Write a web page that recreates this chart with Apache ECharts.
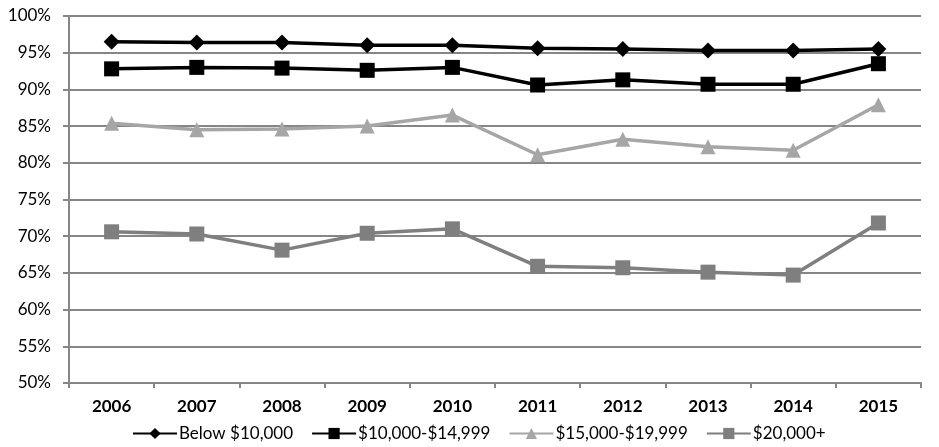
<!DOCTYPE html>
<html><head><meta charset="utf-8">
<script src="https://cdn.jsdelivr.net/npm/echarts@6/dist/echarts.min.js"></script>
<style>html,body{margin:0;padding:0;background:#fff}#c{width:939px;height:447px}</style>
</head><body><div id="c"></div>
<script>
const categories = ['2006','2007','2008','2009','2010','2011','2012','2013','2014','2015'];
const below10k = [96.5, 96.4, 96.4, 96.0, 96.0, 95.6, 95.5, 95.3, 95.3, 95.5];
const r10to15k = [92.8, 93.0, 92.9, 92.6, 93.0, 90.6, 91.3, 90.7, 90.7, 93.5];
const r15to20k = [85.4, 84.5, 84.6, 85.0, 86.5, 81.1, 83.2, 82.2, 81.7, 87.9];
const over20k = [70.6, 70.3, 68.1, 70.4, 71.0, 65.9, 65.7, 65.1, 64.7, 71.8];
const seriesNames = ['Below $10,000', '$10,000-$14,999', '$15,000-$19,999', '$20,000+'];

const font = 'Lato, "Open Sans", sans-serif';
const chart = echarts.init(document.getElementById('c'), null, {renderer: 'canvas'});
function mk(name, data, color, symbol, size) {
  return {
    name, type: 'line', data, symbol, symbolSize: size,
    lineStyle: {color, width: 3.5}, itemStyle: {color},
    emphasis: {disabled: true}, animation: false
  };
}
chart.setOption({
  animation: false,
  grid: {left: 69, right: 18, top: 16, bottom: 64, containLabel: false},
  xAxis: {
    type: 'category', data: categories, boundaryGap: true,
    axisLine: {lineStyle: {color: '#868686', width: 2}},
    axisTick: {show: true, length: 5, lineStyle: {color: '#868686', width: 2}},
    axisLabel: {color: '#000', fontWeight: 'bold', fontSize: 17, fontFamily: font, margin: 15}
  },
  yAxis: {
    type: 'value', min: 50, max: 100, interval: 5,
    axisLine: {show: true, lineStyle: {color: '#868686', width: 2}},
    axisTick: {show: true, length: 6, lineStyle: {color: '#868686', width: 2}},
    splitLine: {lineStyle: {color: '#868686', width: 2}},
    axisLabel: {color: '#000', fontSize: 17, fontFamily: font, margin: 18, formatter: v => v + '%'}
  },
  legend: {
    bottom: 0, left: 127, itemWidth: 44, itemHeight: 14, itemGap: 18,
    textStyle: {fontSize: 17, fontFamily: font, color: '#000', padding: [0,0,0,-3]},
    data: seriesNames
  },
  series: [
    mk(seriesNames[0], below10k, '#000000', 'diamond', 16),
    mk(seriesNames[1], r10to15k, '#000000', 'rect', 15),
    mk(seriesNames[2], r15to20k, '#a6a6a6', 'triangle', 15),
    mk(seriesNames[3], over20k, '#7f7f7f', 'rect', 15)
  ]
});
</script></body></html>
